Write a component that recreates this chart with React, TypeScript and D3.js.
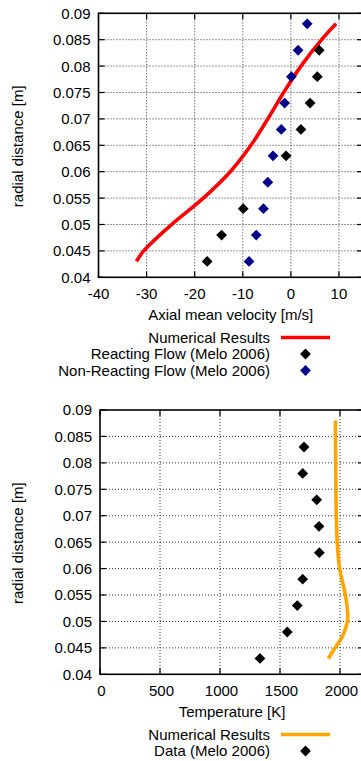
import React from "react";
import * as d3 from "d3";

// ---------- Data ----------
const velTicks = [-40, -30, -20, -10, 0, 10];
const tempTicks = [0, 500, 1000, 1500, 2000];
const radialTicks = [0.04, 0.045, 0.05, 0.055, 0.06, 0.065, 0.07, 0.075, 0.08, 0.085, 0.09];

const numVelRadial = [0.088, 0.085, 0.08, 0.075, 0.07, 0.065, 0.06, 0.055, 0.05, 0.045, 0.043];
const numVel = [9.4, 6.4, 2.1, -1.5, -4.8, -8.3, -12.6, -18.2, -24.8, -30.6, -32.1];

const reactRadial = [0.083, 0.078, 0.073, 0.068, 0.063, 0.053, 0.048, 0.043];
const reactVel = [5.9, 5.5, 4.0, 2.1, -1.0, -9.9, -14.4, -17.4];

const nonReactRadial = [0.088, 0.083, 0.078, 0.073, 0.068, 0.063, 0.058, 0.053, 0.048, 0.043];
const nonReactVel = [3.4, 1.5, 0.1, -1.3, -2.0, -3.7, -4.8, -5.7, -7.2, -8.7];

const numTempRadial = [0.088, 0.085, 0.08, 0.075, 0.07, 0.065, 0.06, 0.055, 0.0515, 0.05, 0.0475, 0.045, 0.043];
const numTemp = [1962, 1962, 1964, 1966, 1969, 1977, 1997, 2045, 2064, 2061, 2027, 1958, 1903];

const dataTempRadial = [0.083, 0.078, 0.073, 0.068, 0.063, 0.058, 0.053, 0.048, 0.043];
const dataTemp = [1700, 1689, 1806, 1825, 1828, 1689, 1644, 1561, 1333];

const FONT = "'Liberation Sans', Arial, Helvetica, sans-serif";
const FS = 15;

type Series = { kind: "line" | "points"; xs: number[]; ys: number[]; color: string; label: string };

function diamond(cx: number, cy: number, r: number) {
  return `M${cx},${cy - r}L${cx + r},${cy}L${cx},${cy + r}L${cx - r},${cy}Z`;
}

function Panel(props: {
  top: number; bottom: number; left: number; right: number;
  xDomain: [number, number]; xTicks: number[]; xTitle: string;
  series: Series[]; legendTop: number; xLabelShift: number;
}) {
  const { top, bottom, left, right, xDomain, xTicks, xTitle, series, legendTop, xLabelShift } = props;
  const x = d3.scaleLinear().domain(xDomain).range([left, right]);
  const y = d3.scaleLinear().domain([0.04, 0.09]).range([bottom, top]);
  const fmtY = (v: number) => String(+v.toFixed(3));
  const tick = 6;
  const lineGen = d3.line<[number, number]>().x((d) => x(d[0])).y((d) => y(d[1])).curve(d3.curveCatmullRom.alpha(0.5));
  const legendRight = 270;
  return (
    <g fontFamily={FONT} fontSize={FS} fill="#000">
      {/* grid */}
      {radialTicks.filter((v) => v > 0.0401 && v < 0.0899).map((v) => (
        <line key={"gy" + v} x1={left} x2={right} y1={y(v)} y2={y(v)} stroke="#333" strokeWidth={1} strokeDasharray="1,2" />
      ))}
      {xTicks.filter((v) => v > xDomain[0]).map((v) => (
        <line key={"gx" + v} x1={x(v)} x2={x(v)} y1={top} y2={bottom} stroke="#333" strokeWidth={1} strokeDasharray="1,2" />
      ))}
      {/* ticks */}
      {radialTicks.map((v) => (
        <g key={"ty" + v}>
          <line x1={left} x2={left + tick} y1={y(v)} y2={y(v)} stroke="#000" strokeWidth={1.2} />
          <line x1={right - tick} x2={right} y1={y(v)} y2={y(v)} stroke="#000" strokeWidth={1.2} />
          <text x={left - 8} y={y(v)} dy="0.36em" textAnchor="end">{fmtY(v)}</text>
        </g>
      ))}
      {xTicks.map((v) => (
        <g key={"tx" + v}>
          <line x1={x(v)} x2={x(v)} y1={bottom} y2={bottom - tick} stroke="#000" strokeWidth={1.2} />
          <line x1={x(v)} x2={x(v)} y1={top} y2={top + tick} stroke="#000" strokeWidth={1.2} />
          <text x={x(v) + xLabelShift} y={bottom + 16.5} dy="0.36em" textAnchor="middle">{String(v)}</text>
        </g>
      ))}
      {/* border */}
      <rect x={left} y={top} width={right - left} height={bottom - top} fill="none" stroke="#000" strokeWidth={1.6} />
      {/* series */}
      {series.map((s, i) =>
        s.kind === "line" ? (
          <path key={"s" + i} d={lineGen(s.xs.map((v, j) => [v, s.ys[j]] as [number, number])) || ""} fill="none" stroke={s.color} strokeWidth={3.6} strokeLinecap="butt" />
        ) : (
          <g key={"s" + i}>
            {s.xs.map((v, j) => (
              <path key={j} d={diamond(x(v), y(s.ys[j]), 5.4)} fill={s.color} />
            ))}
          </g>
        )
      )}
      {/* axis titles */}
      <text x={(left + right) / 2} y={bottom + 43} textAnchor="middle">{xTitle}</text>
      <text transform={`translate(23,${(top + bottom) / 2 + 1}) rotate(-90)`} textAnchor="middle">radial distance [m]</text>
      {/* legend */}
      {series.map((s, i) => {
        const cy = legendTop + i * 16.5;
        return (
          <g key={"l" + i}>
            <text x={legendRight} y={cy} dy="0.36em" textAnchor="end">{s.label}</text>
            {s.kind === "line" ? (
              <line x1={281} x2={330} y1={cy} y2={cy} stroke={s.color} strokeWidth={3.6} />
            ) : (
              <path d={diamond(305.5, cy, 5.4)} fill={s.color} />
            )}
          </g>
        );
      })}
    </g>
  );
}

export default function App() {
  return (
    <svg width={361} height={761} style={{ position: "absolute", left: 0, top: 0, display: "block" }} xmlns="http://www.w3.org/2000/svg">
      <rect x={0} y={0} width={361} height={761} fill="#fff" />
      <Panel
        top={13.3} bottom={277.3} left={98.5} right={363}
        xDomain={[-40, 15]} xTicks={velTicks} xTitle="Axial mean velocity [m/s]"
        legendTop={337.5} xLabelShift={0}
        series={[
          { kind: "line", xs: numVel, ys: numVelRadial, color: "#ff0000", label: "Numerical Results" },
          { kind: "points", xs: reactVel, ys: reactRadial, color: "#000000", label: "Reacting Flow (Melo 2006)" },
          { kind: "points", xs: nonReactVel, ys: nonReactRadial, color: "#00008b", label: "Non-Reacting Flow (Melo 2006)" },
        ]}
      />
      <Panel
        top={410} bottom={674.3} left={100} right={364}
        xDomain={[0, 2200]} xTicks={tempTicks} xTitle="Temperature [K]"
        legendTop={734.5} xLabelShift={1.5}
        series={[
          { kind: "line", xs: numTemp, ys: numTempRadial, color: "#ffa500", label: "Numerical Results" },
          { kind: "points", xs: dataTemp, ys: dataTempRadial, color: "#000000", label: "Data (Melo 2006)" },
        ]}
      />
    </svg>
  );
}
